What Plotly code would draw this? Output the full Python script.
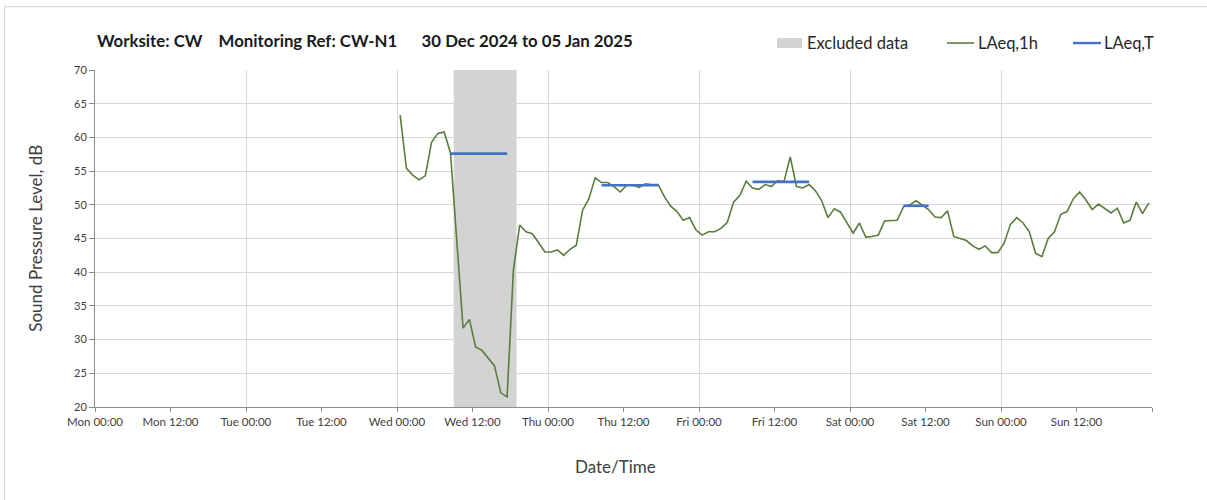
import pandas as pd
import plotly.graph_objects as go

# ---------------- data ----------------
title_text = "Worksite: CW\u00a0\u00a0\u00a0\u00a0Monitoring Ref: CW-N1\u00a0\u00a0\u00a0\u00a0\u00a0\u00a030 Dec 2024 to 05 Jan 2025"

laeq1h_start = "2025-01-01 00:30"
wed = [63.3, 55.4, 54.4, 53.7, 54.3, 59.3, 60.6, 60.8, 57.7, 45.0, 31.7, 33.0,
       28.9, 28.4, 27.2, 26.1, 22.1, 21.5, 40.3, 47.0, 46.0, 45.7, 44.4, 43.0]
thu = [43.0, 43.3, 42.5, 43.4, 44.0, 49.2, 50.9, 54.0, 53.3, 53.3, 52.7, 51.9,
       52.9, 52.9, 52.6, 53.1, 53.0, 53.0, 51.2, 49.8, 49.0, 47.7, 48.1, 46.3]
fri = [45.5, 46.0, 46.0, 46.5, 47.4, 50.4, 51.4, 53.5, 52.5, 52.3, 53.0, 52.7,
       53.6, 53.4, 57.1, 52.7, 52.5, 53.0, 52.1, 50.6, 48.1, 49.4, 48.9, 47.3]
sat = [45.8, 47.3, 45.2, 45.3, 45.5, 47.6, 47.7, 47.7, 49.7, 50.0, 50.6, 50.0,
       49.3, 48.2, 48.1, 49.1, 45.3, 45.0, 44.7, 43.9, 43.4, 43.9, 42.9, 42.9]
sun = [44.3, 47.1, 48.1, 47.3, 46.0, 42.8, 42.3, 45.0, 46.0, 48.6, 49.0, 50.9,
       51.9, 50.7, 49.3, 50.1, 49.5, 48.8, 49.5, 47.3, 47.7, 50.4, 48.7, 50.3]
laeq1h = wed + thu + fri + sat + sun

laeqT_start = ["2025-01-01 08:30", "2025-01-02 08:30", "2025-01-03 08:30", "2025-01-04 08:30"]
laeqT_end = ["2025-01-01 17:30", "2025-01-02 17:30", "2025-01-03 17:30", "2025-01-04 12:30"]
laeqT_value = [57.6, 52.9, 53.4, 49.85]

excluded_start = "2025-01-01 09:00"
excluded_end = "2025-01-01 19:00"

x_range = ["2024-12-30 00:00", "2025-01-06 00:00"]
y_range = [20, 70]

x_tick_vals = pd.date_range(x_range[0], x_range[1], freq="12h")
x_tick_text = [t.strftime("%a %H:%M") for t in x_tick_vals[:-1]] + [""]

# ---------------- styling ----------------
FONT = "Lato"
GREEN = "#5a7d3e"
BLUE = "#4472c4"
BAND = "#d3d3d3"
GRID = "#d6d6d6"
AXIS = "#8c8c8c"
TEXT = "#404040"

W, H = 1207, 500
L, R, T, B = 95, 55, 70, 92.5
pw, ph = W - L - R, H - T - B


def px(xp):
    return (xp - L) / pw


def py(yp):
    return (H - B - yp) / ph


times_1h = pd.date_range(laeq1h_start, periods=len(laeq1h), freq="h")

fig = go.Figure()

fig.add_trace(go.Scatter(
    x=times_1h, y=laeq1h, mode="lines", name="LAeq,1h",
    line=dict(color=GREEN, width=1.6), showlegend=False, hoverinfo="x+y",
))

tx, ty = [], []
for s, e, v in zip(laeqT_start, laeqT_end, laeqT_value):
    tx += [s, e, None]
    ty += [v, v, None]
fig.add_trace(go.Scatter(
    x=tx, y=ty, mode="lines", name="LAeq,T", xaxis="x2",
    line=dict(color=BLUE, width=2.6), showlegend=False, connectgaps=False,
))

fig.add_shape(type="rect", xref="x", yref="y", x0=excluded_start, x1=excluded_end,
              y0=y_range[0], y1=y_range[1], fillcolor=BAND, line=dict(width=0),
              layer="below")

# outer chart border
fig.add_shape(type="rect", xref="paper", yref="paper",
              x0=px(4.5), x1=px(1215), y0=py(6.5), y1=py(510),
              line=dict(color="#d9d9d9", width=1.2), fillcolor="rgba(0,0,0,0)", layer="below")

# manual legend
fig.add_shape(type="rect", xref="paper", yref="paper",
              x0=px(777), x1=px(802), y0=py(48), y1=py(38),
              fillcolor=BAND, line=dict(width=0))
fig.add_shape(type="line", xref="paper", yref="paper",
              x0=px(947), x1=px(974), y0=py(43), y1=py(43),
              line=dict(color=GREEN, width=1.6))
fig.add_shape(type="line", xref="paper", yref="paper",
              x0=px(1073), x1=px(1101), y0=py(43), y1=py(43),
              line=dict(color=BLUE, width=2.4))

legend_items = [("Excluded data", 805), ("LAeq,1h", 976), ("LAeq,T", 1102)]
for txt, xpos in legend_items:
    fig.add_annotation(text=txt, xref="paper", yref="paper", x=px(xpos), y=py(43),
                       xanchor="left", yanchor="middle", showarrow=False,
                       font=dict(family=FONT, size=16.5, color="#262626"))

fig.add_annotation(text="<b>" + title_text + "</b>", xref="paper", yref="paper",
                   x=px(95), y=py(40), xanchor="left", yanchor="middle", showarrow=False,
                   font=dict(family=FONT, size=16.8, color="#1a1a1a"))

fig.add_annotation(text="Date/Time", xref="paper", yref="paper", x=px(615), y=py(467),
                   xanchor="center", yanchor="middle", showarrow=False,
                   font=dict(family=FONT, size=17, color=TEXT))
fig.add_annotation(text="Sound Pressure Level, dB", xref="paper", yref="paper",
                   x=px(36), y=py(239), xanchor="center", yanchor="middle",
                   textangle=-90, showarrow=False,
                   font=dict(family=FONT, size=17, color=TEXT))

fig.update_layout(
    width=W, height=H,
    margin=dict(l=L, r=R, t=T, b=B, pad=0),
    paper_bgcolor="white", plot_bgcolor="white",
    font=dict(family=FONT, size=11, color=TEXT),
    showlegend=False,
    xaxis=dict(
        type="date", range=x_range, tickmode="array",
        tickvals=x_tick_vals, ticktext=x_tick_text,
        ticks="outside", ticklen=4, tickcolor=AXIS,
        showgrid=False, showline=True, linecolor=AXIS, linewidth=1,
        zeroline=False, tickfont=dict(family=FONT, size=11.5, color=TEXT),
        fixedrange=True,
    ),
    xaxis2=dict(
        type="date", range=x_range, overlaying="x", matches="x",
        dtick=24 * 3600 * 1000, tick0="2024-12-30 00:00",
        showgrid=True, gridcolor=GRID, gridwidth=1,
        showticklabels=False, ticks="", showline=False, zeroline=False,
    ),
    yaxis=dict(
        range=y_range, dtick=5, ticks="outside", ticklen=5, tickcolor=AXIS,
        showgrid=True, gridcolor=GRID, gridwidth=1,
        showline=True, linecolor=AXIS, linewidth=1, zeroline=False,
        tickfont=dict(family=FONT, size=11, color=TEXT), fixedrange=True,
    ),
)

fig.write_html("out.html", config={"displayModeBar": False},
               post_script="document.body.style.margin='0';document.body.style.overflow='hidden';")
